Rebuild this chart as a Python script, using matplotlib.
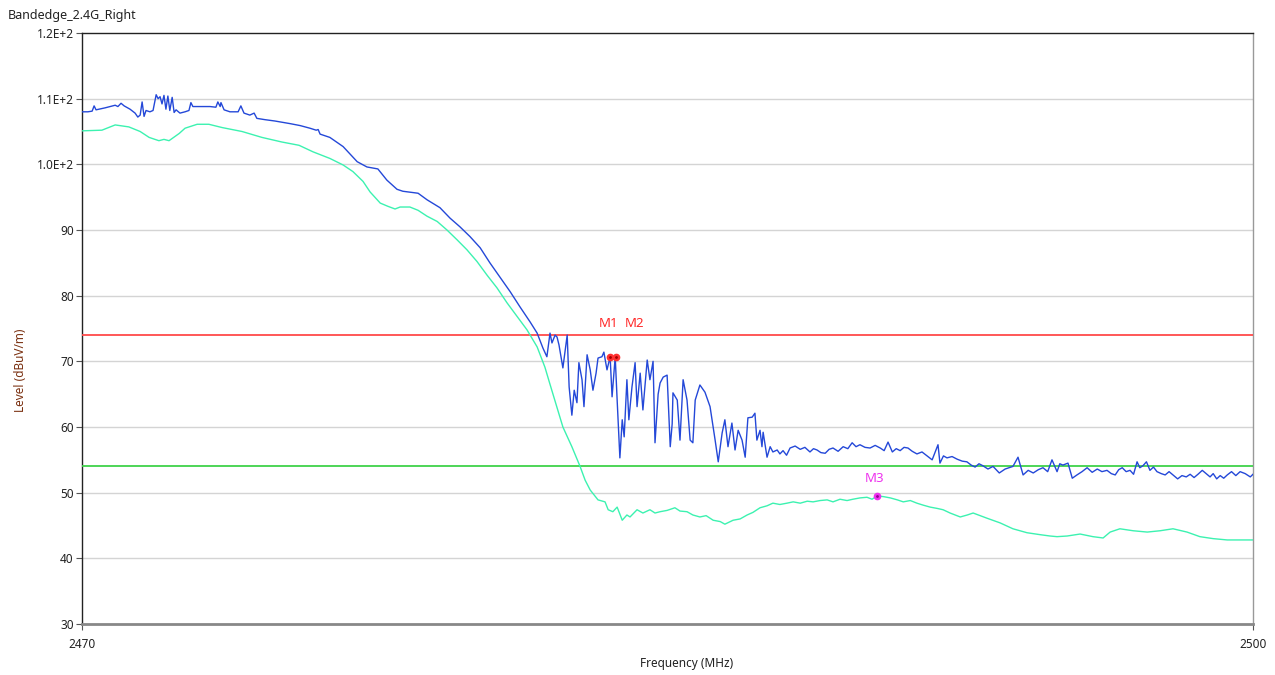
import matplotlib
matplotlib.use("Agg")
import matplotlib.pyplot as plt

# ---------------- data ----------------
title = "Bandedge_2.4G_Right"
x_label = "Frequency (MHz)"
y_label = "Level (dBuV/m)"

peak_freq = [2470.00, 2470.15, 2470.26, 2470.31, 2470.36, 2470.59, 2470.85, 2470.92, 2471.00, 2471.08,
             2471.23, 2471.36, 2471.43, 2471.49, 2471.54, 2471.59, 2471.64, 2471.74, 2471.82, 2471.90,
             2471.95, 2472.00, 2472.05, 2472.10, 2472.15, 2472.20, 2472.25, 2472.31, 2472.36, 2472.41,
             2472.51, 2472.64, 2472.74, 2472.79, 2472.84, 2473.02, 2473.28, 2473.43, 2473.48, 2473.54,
             2473.56, 2473.64, 2473.79, 2474.00, 2474.07, 2474.15, 2474.30, 2474.41, 2474.48, 2474.69,
             2474.94, 2475.33, 2475.59, 2475.84, 2476.00, 2476.05, 2476.10, 2476.35, 2476.69, 2477.05,
             2477.30, 2477.58, 2477.81, 2478.07, 2478.22, 2478.61, 2478.84, 2479.17, 2479.43, 2479.68,
             2479.94, 2480.20, 2480.45, 2480.71, 2480.97, 2481.22, 2481.48, 2481.66, 2481.81, 2481.91,
             2481.99, 2482.04, 2482.12, 2482.17, 2482.22, 2482.32, 2482.43, 2482.48, 2482.55, 2482.61,
             2482.68, 2482.73, 2482.81, 2482.86, 2482.94, 2483.02, 2483.09, 2483.17, 2483.22, 2483.32,
             2483.37, 2483.45, 2483.53, 2483.58, 2483.66, 2483.71, 2483.78, 2483.84, 2483.89, 2483.96,
             2484.01, 2484.09, 2484.17, 2484.22, 2484.30, 2484.37, 2484.42, 2484.48, 2484.55, 2484.63,
             2484.68, 2484.76, 2484.81, 2484.89, 2484.99, 2485.07, 2485.12, 2485.14, 2485.25, 2485.32,
             2485.40, 2485.50, 2485.58, 2485.65, 2485.71, 2485.83, 2485.96, 2486.09, 2486.22, 2486.30,
             2486.40, 2486.47, 2486.55, 2486.65, 2486.73, 2486.81, 2486.91, 2486.99, 2487.06, 2487.17,
             2487.24, 2487.29, 2487.37, 2487.42, 2487.45, 2487.55, 2487.63, 2487.70, 2487.81, 2487.88,
             2487.96, 2488.05, 2488.14, 2488.27, 2488.40, 2488.52, 2488.65, 2488.74, 2488.83, 2488.93,
             2489.04, 2489.14, 2489.24, 2489.37, 2489.50, 2489.62, 2489.73, 2489.83, 2489.93, 2490.06,
             2490.19, 2490.32, 2490.45, 2490.55, 2490.65, 2490.76, 2490.86, 2490.96, 2491.06, 2491.16,
             2491.27, 2491.39, 2491.52, 2491.65, 2491.78, 2491.93, 2491.98, 2492.07, 2492.16, 2492.29,
             2492.42, 2492.55, 2492.67, 2492.78, 2492.88, 2492.98, 2493.08, 2493.21, 2493.34, 2493.50,
             2493.65, 2493.75, 2493.85, 2493.98, 2494.11, 2494.24, 2494.37, 2494.50, 2494.62, 2494.74,
             2494.85, 2494.98, 2495.05, 2495.13, 2495.26, 2495.37, 2495.49, 2495.62, 2495.75, 2495.88,
             2496.01, 2496.13, 2496.26, 2496.37, 2496.47, 2496.56, 2496.65, 2496.75, 2496.85, 2496.94,
             2497.03, 2497.10, 2497.18, 2497.27, 2497.36, 2497.45, 2497.54, 2497.65, 2497.75, 2497.85,
             2497.95, 2498.07, 2498.18, 2498.29, 2498.39, 2498.49, 2498.59, 2498.70, 2498.82, 2498.90,
             2498.98, 2499.07, 2499.16, 2499.25, 2499.34, 2499.45, 2499.56, 2499.67, 2499.80, 2499.93,
             2500.00]
peak_level = [108.0, 108.0, 108.1, 108.9, 108.3, 108.6, 109.0, 108.8, 109.3, 108.9,
              108.4, 107.8, 107.2, 107.5, 109.5, 107.3, 108.2, 108.0, 108.2, 110.6,
              110.0, 110.3, 109.2, 110.5, 108.4, 110.4, 108.2, 110.2, 107.9, 108.3,
              107.8, 108.0, 108.2, 109.4, 108.8, 108.8, 108.8, 108.7, 109.5, 108.8,
              109.4, 108.3, 108.0, 108.0, 108.9, 107.8, 107.5, 107.8, 107.0, 106.8,
              106.6, 106.2, 105.9, 105.5, 105.2, 105.3, 104.6, 104.1, 102.7, 100.4,
              99.6, 99.3, 97.6, 96.2, 95.9, 95.6, 94.6, 93.4, 91.8, 90.5,
              89.0, 87.3, 85.0, 82.8, 80.6, 78.3, 76.0, 74.3, 72.0, 70.7,
              74.3, 72.8, 74.0, 73.7, 72.5, 69.0, 74.0, 66.1, 61.8, 65.6,
              63.7, 69.8, 67.2, 63.1, 71.0, 68.7, 65.6, 68.2, 70.5, 70.7,
              71.4, 68.7, 70.7, 64.6, 70.7, 64.1, 55.3, 61.1, 58.5, 67.2,
              61.1, 66.1, 69.8, 63.1, 68.2, 62.6, 66.1, 70.2, 67.2, 70.0,
              57.6, 65.0, 66.7, 67.6, 67.9, 57.0, 60.5, 65.2, 64.1, 58.0,
              67.2, 64.1, 58.0, 57.6, 64.1, 66.4, 65.3, 63.1, 58.0, 54.7,
              59.1, 61.1, 57.0, 60.6, 56.5, 59.5, 58.0, 55.4, 61.4, 61.5,
              62.1, 58.0, 59.5, 57.0, 59.2, 55.4, 57.0, 56.2, 56.5, 55.9,
              56.4, 55.7, 56.8, 57.1, 56.6, 56.9, 56.2, 56.7, 56.5, 56.1,
              56.0, 56.6, 56.8, 56.3, 57.0, 56.7, 57.6, 57.0, 57.3, 56.9,
              56.8, 57.2, 56.8, 56.4, 57.7, 56.2, 56.7, 56.4, 56.9, 56.8,
              56.3, 55.9, 56.2, 55.6, 55.0, 57.3, 54.5, 55.6, 55.3, 55.5,
              55.1, 54.8, 54.7, 54.2, 53.9, 54.4, 54.1, 53.6, 54.0, 53.0,
              53.6, 53.8, 54.0, 55.4, 52.7, 53.4, 53.0, 53.5, 53.8, 53.2,
              55.0, 53.2, 54.4, 54.2, 54.5, 52.2, 52.7, 53.2, 53.8, 53.1,
              53.6, 53.2, 53.4, 52.9, 52.7, 53.5, 53.8, 53.2, 53.4, 52.8,
              54.7, 53.8, 54.1, 54.7, 53.4, 53.9, 53.2, 52.9, 52.7, 53.2,
              52.7, 52.1, 52.6, 52.4, 52.8, 52.3, 52.8, 53.4, 52.8, 52.4,
              52.9, 52.1, 52.6, 52.2, 52.7, 53.2, 52.6, 53.2, 52.9, 52.4,
              52.8]

avg_freq = [2470.00, 2470.51, 2470.85, 2471.20, 2471.49, 2471.72, 2471.97, 2472.10, 2472.23, 2472.49,
            2472.64, 2472.95, 2473.25, 2473.59, 2474.10, 2474.61, 2475.12, 2475.56, 2475.92, 2476.35,
            2476.69, 2476.94, 2477.20, 2477.38, 2477.64, 2477.84, 2478.02, 2478.15, 2478.40, 2478.61,
            2478.84, 2479.10, 2479.35, 2479.61, 2479.86, 2480.12, 2480.38, 2480.63, 2480.89, 2481.15,
            2481.40, 2481.66, 2481.86, 2481.99, 2482.32, 2482.55, 2482.76, 2482.89, 2483.02, 2483.22,
            2483.40, 2483.48, 2483.60, 2483.71, 2483.84, 2483.96, 2484.04, 2484.22, 2484.37, 2484.55,
            2484.68, 2484.81, 2484.99, 2485.19, 2485.32, 2485.50, 2485.65, 2485.83, 2485.99, 2486.17,
            2486.35, 2486.47, 2486.68, 2486.86, 2487.04, 2487.19, 2487.37, 2487.55, 2487.70, 2487.88,
            2488.06, 2488.22, 2488.40, 2488.58, 2488.73, 2488.91, 2489.09, 2489.24, 2489.42, 2489.60,
            2489.75, 2489.93, 2490.11, 2490.24, 2490.37, 2490.53, 2490.71, 2490.89, 2491.04, 2491.22,
            2491.39, 2491.55, 2491.73, 2491.91, 2492.06, 2492.24, 2492.50, 2492.68, 2492.83, 2493.01,
            2493.19, 2493.52, 2493.85, 2494.21, 2494.55, 2494.80, 2494.98, 2495.24, 2495.57, 2495.90,
            2496.16, 2496.34, 2496.59, 2496.93, 2497.29, 2497.62, 2497.95, 2498.31, 2498.64, 2498.98,
            2499.34, 2499.67, 2500.00]
avg_level = [105.1, 105.2, 106.0, 105.7, 105.0, 104.1, 103.6, 103.8, 103.6, 104.7,
             105.5, 106.1, 106.1, 105.6, 105.0, 104.1, 103.4, 102.9, 101.9, 100.9,
             99.9, 98.9, 97.4, 95.8, 94.1, 93.6, 93.2, 93.5, 93.5, 93.0,
             92.1, 91.3, 90.0, 88.5, 87.0, 85.2, 83.1, 81.2, 78.9, 76.8,
             74.8, 72.2, 69.1, 66.5, 60.0, 57.0, 54.0, 51.9, 50.4, 48.9,
             48.6, 47.4, 47.1, 47.8, 45.8, 46.6, 46.3, 47.4, 46.9, 47.4,
             46.9, 47.1, 47.3, 47.7, 47.2, 47.1, 46.6, 46.3, 46.5, 45.8,
             45.6, 45.2, 45.8, 46.0, 46.6, 47.0, 47.7, 48.0, 48.4, 48.2,
             48.4, 48.6, 48.4, 48.7, 48.6, 48.8, 48.9, 48.6, 49.0, 48.8,
             49.0, 49.2, 49.3, 49.0, 49.5, 49.4, 49.2, 48.9, 48.6, 48.8,
             48.4, 48.1, 47.8, 47.6, 47.4, 46.9, 46.3, 46.6, 46.9, 46.5,
             46.1, 45.4, 44.5, 43.9, 43.6, 43.4, 43.3, 43.4, 43.7, 43.3,
             43.1, 44.0, 44.5, 44.2, 44.0, 44.2, 44.5, 44.0, 43.3, 43.0,
             42.8, 42.8, 42.8]

limit_peak = 74.0
limit_avg = 54.0

marker_names = ["M1", "M2", "M3"]
marker_freq = [2483.53, 2483.68, 2490.37]
marker_level = [70.7, 70.7, 49.5]

y_ticks = [30, 40, 50, 60, 70, 80, 90, 100, 110, 120]
y_tick_labels = ["30", "40", "50", "60", "70", "80", "90", "1.0E+2", "1.1E+2", "1.2E+2"]
x_ticks = [2470, 2500]
x_tick_labels = ["2470", "2500"]

# ---------------- plot ----------------
plt.rcParams['font.family'] = ['Noto Sans', 'DejaVu Sans']

W, H = 1275, 675
fig = plt.figure(figsize=(12.75, 6.75), dpi=100)
ax = fig.add_axes([82 / W, 1 - 624 / H, (1253 - 82) / W, (624 - 33) / H])

ax.set_xlim(2470, 2500)
ax.set_ylim(30, 120)

for yt in y_ticks[1:-1]:
    ax.axhline(yt, color="#d4d4d4", lw=1.0, zorder=1)

ax.axhline(limit_peak, color="#ff4a4a", lw=1.3, zorder=3)
ax.axhline(limit_avg, color="#3fd24a", lw=1.3, zorder=3)

ax.plot(avg_freq, avg_level, color="#3cf2b0", lw=1.0, zorder=4)
ax.plot(peak_freq, peak_level, color="#2448d8", lw=1.0, zorder=5)

marker_colors = ["#ff3030", "#ff3030", "#ee33ee"]
dot_colors = ["#a00000", "#a00000", "#900090"]
for f, lv, c, dc in zip(marker_freq, marker_level, marker_colors, dot_colors):
    ax.plot([f], [lv], marker="o", ms=4.5, mfc=c, mec=c, zorder=6)
    ax.plot([f], [lv], marker=".", ms=2, color=dc, zorder=7)

ax.annotate(marker_names[0], (marker_freq[0], limit_peak), xytext=(-1, 4), textcoords="offset points",
            ha="center", va="bottom", color="#ff2a2a", fontsize=9.5)
ax.annotate(marker_names[1], (marker_freq[1], limit_peak), xytext=(13, 4), textcoords="offset points",
            ha="center", va="bottom", color="#ff2a2a", fontsize=9.5)
ax.annotate(marker_names[2], (marker_freq[2], marker_level[2]), xytext=(-2, 8), textcoords="offset points",
            ha="center", va="bottom", color="#ee33ee", fontsize=9.5)

ax.set_yticks(y_ticks)
ax.set_yticklabels(y_tick_labels, fontsize=8.5, color="#222222")
ax.set_xticks(x_ticks)
ax.set_xticklabels(x_tick_labels, fontsize=8.5, color="#222222")
ax.tick_params(axis="both", length=4, width=0.8, color="#555555", pad=2)
ax.tick_params(axis="x", pad=6)

for side in ["left", "top"]:
    ax.spines[side].set_color("#222222")
    ax.spines[side].set_linewidth(1.0)
ax.spines["right"].set_color("#999999")
ax.spines["right"].set_linewidth(1.0)
ax.spines["bottom"].set_color("#888888")
ax.spines["bottom"].set_linewidth(2.0)

fig.text(687 / W, 1 - 663 / H, x_label, fontsize=8.5, color="#222222", ha="center", va="center")
fig.text(21 / W, 1 - 370 / H, y_label, fontsize=8.5, color="#7a3010", ha="center", va="center",
         rotation=90)
fig.text(8 / W, 1 - 16 / H, title, fontsize=9, color="#222222", ha="left", va="center")

fig.savefig("out.png", dpi=100)
